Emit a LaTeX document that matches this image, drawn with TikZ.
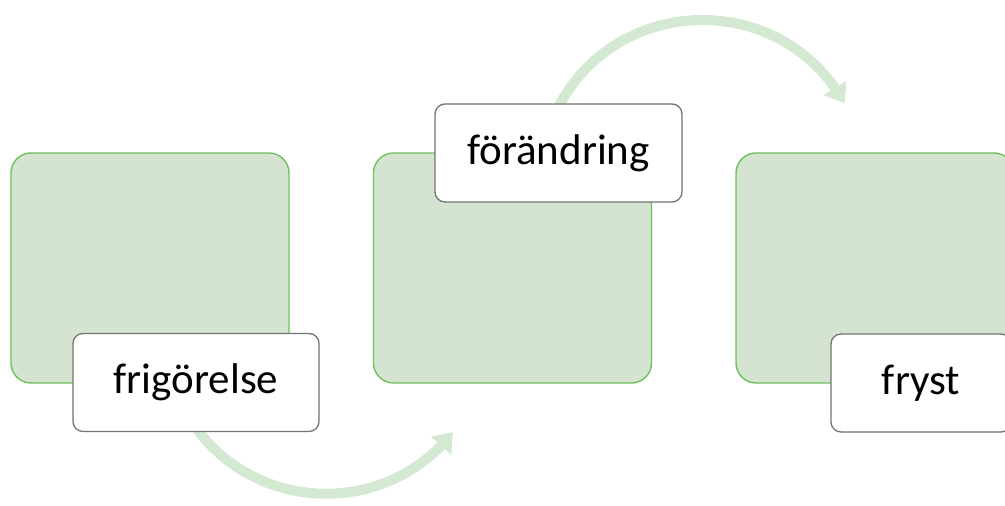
\documentclass[tikz,border=0pt]{standalone}
\usepackage{fontspec}
\setmainfont{Carlito}
\usetikzlibrary{arrows.meta,bending}
\definecolor{boxfill}{RGB}{213,228,209}
\definecolor{boxline}{RGB}{110,192,94}
\definecolor{arrowgreen}{RGB}{212,233,209}
\definecolor{labelline}{RGB}{115,115,115}
\tikzset{
  greenbox/.style={draw=boxline, line width=1.4pt, fill=boxfill, rounded corners=20pt,
    minimum width=278pt, minimum height=230pt, inner sep=0pt, anchor=center},
  labelbox/.style={draw=labelline, line width=1.3pt, fill=white, rounded corners=10pt,
    minimum height=98pt, inner sep=0pt, font=\fontsize{43}{50}\selectfont, anchor=center},
  bigarrow/.style={draw=arrowgreen, line width=10pt,
    -{Triangle[length=18pt,width=26pt,flex]}},
}
\begin{document}
\begin{tikzpicture}[x=1pt,y=1pt]
\clip (0,0) rectangle (1005,506);
\fill[white] (0,0) rectangle (1005,506);
% arrows (drawn first, lying under the boxes)
\coordinate (b1s) at (189.5,87.7);
\coordinate (b1e) at (452.9,73.9);
\coordinate (t1s) at (554.8,391.9);
\coordinate (t1e) at (844.6,402.8);
\draw[bigarrow] (b1s) to[out=302,in=232,looseness=1.08] (b1e);
\draw[bigarrow] (t1s) to[out=65,in=119.3,looseness=1.17] (t1e);
% green boxes
\node[greenbox] (g1) at (150,238) {};
\node[greenbox] (g2) at (512.5,238) {};
\node[greenbox] (g3) at (875,238) {};
% labels
\node[labelbox, minimum width=246pt] (l1) at (196,123.5) {frigörelse};
\node[labelbox, minimum width=247pt] (l2) at (558.5,353) {förändring};
\node[labelbox, minimum width=180pt] (l3) at (921,123) {fryst};
\end{tikzpicture}
\end{document}
